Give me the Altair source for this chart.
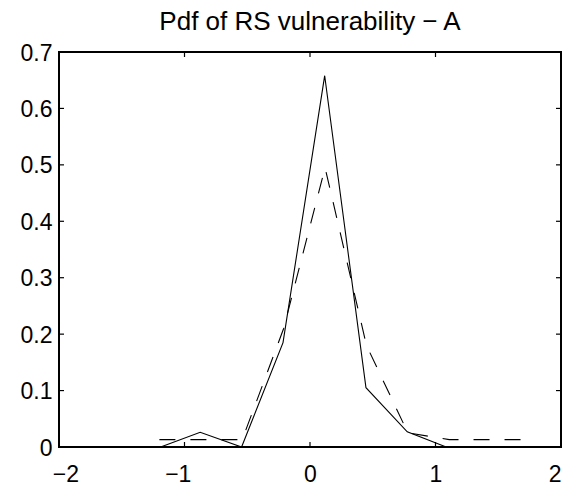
import altair as alt
import pandas as pd

# ---- data ----
solid_x = [-1.19, -0.875, -0.545, -0.215, 0.117, 0.446, 0.775, 1.085]
solid_y = [0.0, 0.026, 0.0, 0.185, 0.658, 0.105, 0.027, 0.0]

dashed_x = [-1.2, -0.87, -0.54, -0.21, 0.12, 0.45, 0.78, 1.11, 1.44, 1.77]
dashed_y = [0.013, 0.013, 0.013, 0.21, 0.495, 0.18, 0.025, 0.013, 0.013, 0.013]

x_ticks = [-2, -1, 0, 1, 2]
y_ticks = [0, 0.1, 0.2, 0.3, 0.4, 0.5, 0.6, 0.7]
x_inner_ticks = [-1, 0, 1]
y_inner_ticks = [0.1, 0.2, 0.3, 0.4, 0.5, 0.6]
title_text = "Pdf of RS vulnerability \u2212 A"

W, H = 502, 395
FONT = "Liberation Sans"

solid_df = pd.DataFrame({"x": solid_x, "y": solid_y})
dashed_df = pd.DataFrame({"x": dashed_x, "y": dashed_y})
xt_df = pd.DataFrame({"x": x_inner_ticks})
yt_df = pd.DataFrame({"y": y_inner_ticks})

xscale = alt.Scale(domain=[-2, 2], nice=False, zero=False)
yscale = alt.Scale(domain=[0, 0.7], nice=False, zero=False)

x_axis = alt.Axis(
    values=x_ticks, format="d", title=None, grid=False, domain=False,
    ticks=False, tickSize=0, labelPadding=16, labelFont=FONT,
    labelFontSize=23, labelColor="black",
    labelOffset={"condition": {"test": "datum.value < 0", "value": -6.7}, "value": 0},
)
y_axis = alt.Axis(
    values=y_ticks, format=".1~f", title=None, grid=False, domain=False,
    ticks=False, tickSize=0, labelPadding=7, labelFont=FONT,
    labelFontSize=23, labelColor="black", labelAlign="right",
    labelBaseline="middle", labelOffset=1,
)

X = alt.X("x:Q", scale=xscale, axis=x_axis)
Y = alt.Y("y:Q", scale=yscale, axis=y_axis)

solid = alt.Chart(solid_df).mark_line(color="black", strokeWidth=1.1).encode(x=X, y=Y)
dashed = alt.Chart(dashed_df).mark_line(
    color="black", strokeWidth=1.1, strokeDash=[16, 15]
).encode(x=X, y=Y)

tk = dict(color="black", strokeWidth=1.2)
bottom_ticks = alt.Chart(xt_df).mark_rule(**tk).encode(
    x=X, y=alt.value(H), y2=alt.value(H - 5)
)
top_ticks = alt.Chart(xt_df).mark_rule(**tk).encode(
    x=X, y=alt.value(0), y2=alt.value(5)
)
left_ticks = alt.Chart(yt_df).mark_rule(**tk).encode(
    y=Y, x=alt.value(0), x2=alt.value(5)
)
right_ticks = alt.Chart(yt_df).mark_rule(**tk).encode(
    y=Y, x=alt.value(W), x2=alt.value(W - 5)
)

chart = alt.layer(
    solid, dashed, bottom_ticks, top_ticks, left_ticks, right_ticks
).properties(
    width=W,
    height=H,
    title=alt.TitleParams(
        title_text, font=FONT, fontSize=26, fontWeight="normal",
        color="black", anchor="middle", frame="group", offset=16, dy=9,
    ),
    autosize=alt.AutoSizeParams(type="none"),
    padding={"left": 59, "top": 52, "right": 10, "bottom": 42},
    background="white",
).configure_view(stroke="black", strokeWidth=2)

chart.save("out.html", embed_options={"renderer": "svg", "actions": False})
